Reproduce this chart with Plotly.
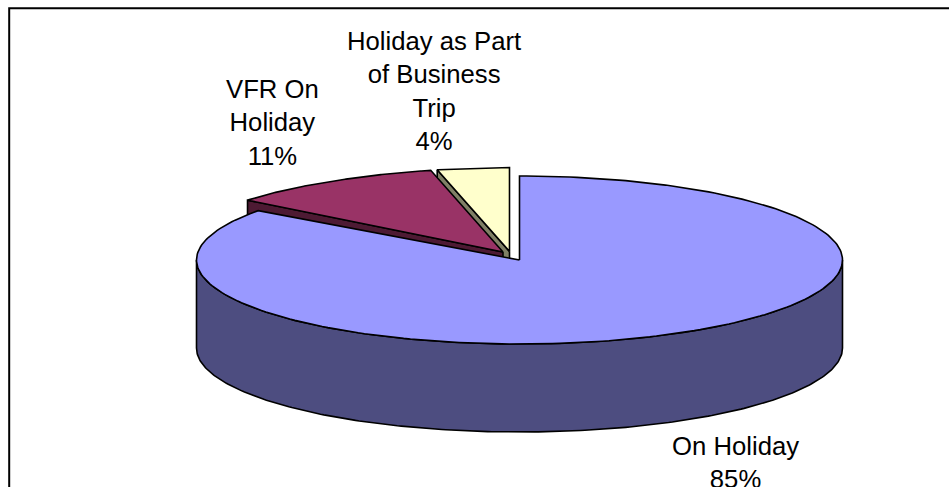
import numpy as np
import plotly.graph_objects as go

categories = ["On Holiday", "VFR On Holiday", "Holiday as Part of Business Trip"]
wrapped_names = ["On Holiday", "VFR On<br>Holiday", "Holiday as Part<br>of Business<br>Trip"]
shares = [85, 11, 4]
share_labels = ["85%", "11%", "4%"]

top_colors = ["#9999FF", "#993366", "#FFFFCC"]
side_colors = ["#4D4D80", "#4D1A33", "#808066"]

RX, RY, DEPTH = 323, 84, 88
APEX = [(519.5, 260), (503, 252), (509.5, 251.5)]
LABEL_XY = [(735, 462), (272, 122.5), (434, 90.5)]
K = 0.11


def rim(theta_deg, apex, persp=True):
    t = np.radians(theta_deg)
    s, c = np.sin(t), np.cos(t)
    back = np.clip(c, 0, None)
    fx = 1 - K * back ** 3 if persp else 1.0
    fy = 1 + 0.12 * (1 - c) if persp else 1.0
    return apex[0] + RX * s * fx, apex[1] - RY * c * fy


fig = go.Figure()


def poly(xs, ys, color):
    fig.add_trace(go.Scatter(
        x=list(xs), y=list(ys), mode="lines", fill="toself", fillcolor=color,
        line=dict(color="black", width=1.6), hoverinfo="skip", showlegend=False))


total = sum(shares)
edges = np.cumsum([0] + shares) / total * 360
# painter's order: back slices first, front slice last
for i in [2, 1, 0]:
    a0, a1 = edges[i], edges[i + 1]
    apex = APEX[i]
    persp = i != 0
    th = np.linspace(a0, a1, 240)
    rx, ry = rim(th, apex, persp)
    if i != 0:
        ex, ey = rim(a0, apex, persp)
        poly([apex[0], ex, ex, apex[0], apex[0]],
             [apex[1], ey, ey + DEPTH, apex[1] + DEPTH, apex[1]], side_colors[i])
    else:
        fx = np.linspace(90, 270, 240)
        wx, wy = rim(fx, apex, False)
        poly(np.r_[wx, wx[::-1], wx[0]],
             np.r_[wy, wy[::-1] + DEPTH, wy[0]], side_colors[i])
    poly(np.r_[apex[0], rx, apex[0]], np.r_[apex[1], ry, apex[1]], top_colors[i])

for name, pct, (lx, ly) in zip(wrapped_names, share_labels, LABEL_XY):
    fig.add_annotation(x=lx, y=ly, text=f"{name}<br>{pct}", showarrow=False,
                       xanchor="center", yanchor="middle", align="center",
                       font=dict(family="Liberation Sans, Arial", size=25.7, color="black"))

fig.add_shape(type="rect", x0=9.2, y0=8.2, x1=1000, y1=560, line=dict(color="black", width=2),
              fillcolor="rgba(0,0,0,0)", layer="below")

fig.update_layout(
    width=949, height=487, margin=dict(l=0, r=0, t=0, b=0),
    paper_bgcolor="white", plot_bgcolor="white", showlegend=False,
    xaxis=dict(range=[0, 949], visible=False, fixedrange=True),
    yaxis=dict(range=[487, 0], visible=False, fixedrange=True),
)
fig.write_html("out.html", config={"displayModeBar": False},
               post_script="document.body.style.margin='0';document.body.style.overflow='hidden';")
